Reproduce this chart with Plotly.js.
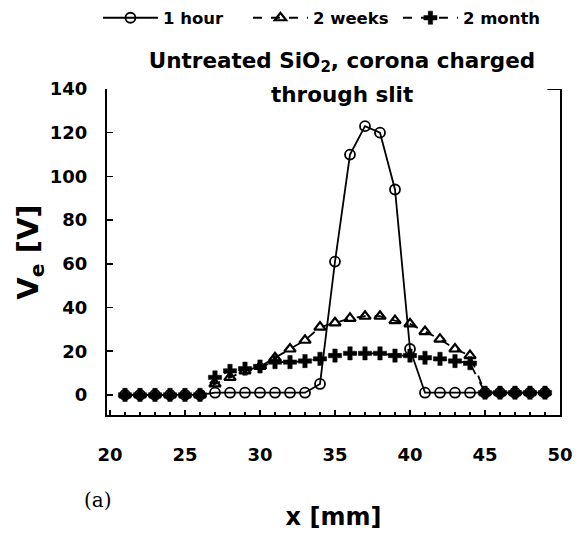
<!DOCTYPE html>
<html>
<head>
<meta charset="utf-8">
<script src="https://cdn.plot.ly/plotly-3.0.1.min.js"></script>
<style>html,body{margin:0;padding:0;background:#fff;}#chart{width:581px;height:535px;}</style>
</head>
<body>
<div id="chart"></div>
<script>
const xPositions = [21,22,23,24,25,26,27,28,29,30,31,32,33,34,35,36,37,38,39,40,41,42,43,44,45,46,47,48,49];
const oneHour   = [0,0,0,0,0,0,1,1,1,1,1,1,1,5,61,110,123,120,94,21,1,1,1,1,1,1,1,1,1];
const twoWeeks  = [0,0,0,0,0,0,5,8,11,13,17,21,25,31,33,35,36,36,34,32.5,29,25.5,21,18,1,1,1,1,1];
const twoMonth  = [0,0,0,0,0,0,8,11,12,13,15,15,15.5,16.5,18,19,19,19,18,18,17,16.5,15.5,14.5,1,1,1,1,1];
const seriesNames = ['1 hour','2 weeks','2 month'];
const xTickVals = [20,25,30,35,40,45,50];
const yTickVals = [0,20,40,60,80,100,120,140];
const titleLine1 = 'Untreated SiO<sub>2</sub>, corona charged';
const titleLine2 = 'through slit';

const F = 'DejaVu Sans, Arial, sans-serif';
const traces = [
  {x:xPositions, y:oneHour, name:seriesNames[0], mode:'lines+markers', type:'scatter',
   line:{color:'#000', width:1.8},
   marker:{symbol:'circle-open', size:10, color:'#000', line:{width:1.8, color:'#000'}}},
  {x:xPositions, y:twoWeeks, name:seriesNames[1], mode:'lines+markers', type:'scatter',
   line:{color:'#000', width:1.8, dash:'dash'},
   marker:{symbol:'triangle-up-open', size:10, color:'#000', line:{width:2.2, color:'#000'}}},
  {x:xPositions, y:twoMonth, name:seriesNames[2], mode:'lines+markers', type:'scatter',
   line:{color:'#000', width:1.8, dash:'dash'},
   marker:{symbol:'cross', size:11, color:'#000', line:{width:0.5, color:'#000'}}}
];

const layout = {
  width:581, height:535,
  margin:{l:107, r:21, t:89, b:120, autoexpand:false},
  paper_bgcolor:'#fff', plot_bgcolor:'#fff',
  showlegend:true,
  font:{family:F, color:'#000'},
  title:{text:titleLine1,
         font:{family:F, size:21.5, weight:'bold', color:'#000'},
         x:342/581, xanchor:'center', y:1-60/535, yanchor:'middle', yref:'container'},
  legend:{orientation:'h', x:-0.02, xanchor:'left', y:(415-18)/326, yanchor:'middle',
          font:{family:F, size:16.5, weight:'bold', color:'#000'}, itemwidth:55,
          entrywidth:80, entrywidthmode:'pixels',
          bgcolor:'rgba(0,0,0,0)'},
  xaxis:{range:[19.8,50], tickvals:xTickVals, ticktext:xTickVals.map(String),
         ticks:'inside', ticklen:5, tickwidth:1.5, tickcolor:'#000',
         minor:{dtick:1, ticks:'inside', ticklen:3, tickwidth:1.2, tickcolor:'#000'},
         showline:true, linewidth:2, linecolor:'#000', mirror:false,
         showgrid:false, zeroline:false,
         tickfont:{family:F, size:18, weight:'bold', color:'#000'},
         ticklabelstandoff:22,
         title:{text:'x [mm]', font:{family:F, size:24, weight:'bold', color:'#000'}, standoff:45}},
  yaxis:{range:[-9.2,140], tickvals:yTickVals, ticktext:yTickVals.map(String),
         ticks:'inside', ticklen:6, tickwidth:1.5, tickcolor:'#000',
         showline:true, linewidth:2, linecolor:'#000', mirror:true,
         showgrid:false, zeroline:false,
         tickfont:{family:F, size:18, weight:'bold', color:'#000'},
         ticklabelstandoff:14,
         title:{text:'V<sub>e</sub> [V]', font:{family:F, size:29, weight:'bold', color:'#000'}, standoff:3}},
  annotations:[
    {text:titleLine2, xref:'paper', yref:'paper', x:(342-107)/453, y:(415-94)/326,
     xanchor:'center', yanchor:'middle', showarrow:false,
     font:{family:F, size:21.5, weight:'bold', color:'#000'}},
    {text:'(a)', xref:'paper', yref:'paper', x:(98-107)/453, y:(415-500)/326,
     xanchor:'center', yanchor:'middle', showarrow:false,
     font:{family:'DejaVu Serif, Liberation Serif, serif', size:20, color:'#000'}}],
  shapes:[{type:'line', xref:'paper', yref:'y', x0:0.972, x1:1, y0:140, y1:140, line:{color:'#000', width:2}}]
};

Plotly.newPlot('chart', traces, layout, {displayModeBar:false, staticPlot:true});
</script>
</body>
</html>
